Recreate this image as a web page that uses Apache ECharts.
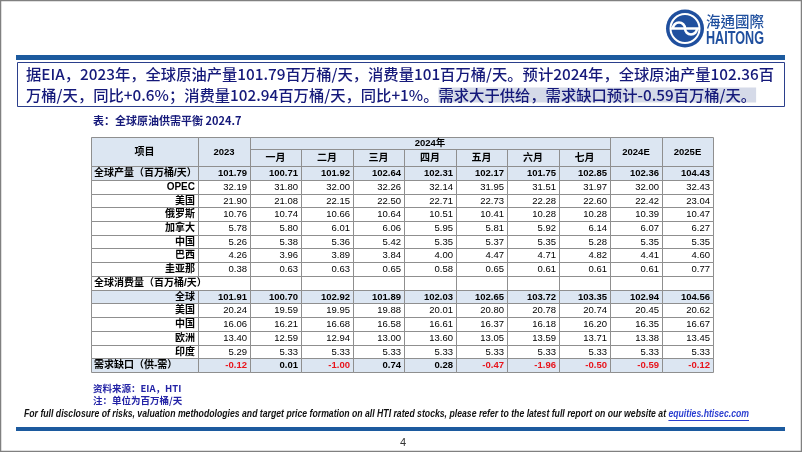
<!DOCTYPE html>
<html>
<head>
<meta charset="utf-8">
<script src="https://cdn.jsdelivr.net/npm/echarts@6/dist/echarts.min.js"></script>
<style>
  html, body { margin: 0; padding: 0; background: #fff; }
  #main { width: 802px; height: 452px; }
</style>
</head>
<body>
<div id="main"></div>
<script>
// ---- data ----
var columns = ['2023', '一月', '二月', '三月', '四月', '五月', '六月', '七月', '2024E', '2025E'];
var yearLabel = '2024年';

var prodTotal  = [101.79, 100.71, 101.92, 102.64, 102.31, 102.17, 101.75, 102.85, 102.36, 104.43];
var prodOPEC   = [32.19, 31.80, 32.00, 32.26, 32.14, 31.95, 31.51, 31.97, 32.00, 32.43];
var prodUS     = [21.90, 21.08, 22.15, 22.50, 22.71, 22.73, 22.28, 22.60, 22.42, 23.04];
var prodRussia = [10.76, 10.74, 10.66, 10.64, 10.51, 10.41, 10.28, 10.28, 10.39, 10.47];
var prodCanada = [5.78, 5.80, 6.01, 6.06, 5.95, 5.81, 5.92, 6.14, 6.07, 6.27];
var prodChina  = [5.26, 5.38, 5.36, 5.42, 5.35, 5.37, 5.35, 5.28, 5.35, 5.35];
var prodBrazil = [4.26, 3.96, 3.89, 3.84, 4.00, 4.47, 4.71, 4.82, 4.41, 4.60];
var prodGuyana = [0.38, 0.63, 0.63, 0.65, 0.58, 0.65, 0.61, 0.61, 0.61, 0.77];
var consTotal  = [101.91, 100.70, 102.92, 101.89, 102.03, 102.65, 103.72, 103.35, 102.94, 104.56];
var consUS     = [20.24, 19.59, 19.95, 19.88, 20.01, 20.80, 20.78, 20.74, 20.45, 20.62];
var consChina  = [16.06, 16.21, 16.68, 16.58, 16.61, 16.37, 16.18, 16.20, 16.35, 16.67];
var consEurope = [13.40, 12.59, 12.94, 13.00, 13.60, 13.05, 13.59, 13.71, 13.38, 13.45];
var consIndia  = [5.29, 5.33, 5.33, 5.33, 5.33, 5.33, 5.33, 5.33, 5.33, 5.33];
var balance    = [-0.12, 0.01, -1.00, 0.74, 0.28, -0.47, -1.96, -0.50, -0.59, -0.12];

// kind: head = left label + shaded bold row, sub = right label, section = label only
var rows = [
  { label: '全球产量（百万桶/天）', values: prodTotal, kind: 'head' },
  { label: 'OPEC', values: prodOPEC, kind: 'sub' },
  { label: '美国', values: prodUS, kind: 'sub' },
  { label: '俄罗斯', values: prodRussia, kind: 'sub' },
  { label: '加拿大', values: prodCanada, kind: 'sub' },
  { label: '中国', values: prodChina, kind: 'sub' },
  { label: '巴西', values: prodBrazil, kind: 'sub' },
  { label: '圭亚那', values: prodGuyana, kind: 'sub' },
  { label: '全球消费量（百万桶/天）', values: null, kind: 'section' },
  { label: '全球', values: consTotal, kind: 'total' },
  { label: '美国', values: consUS, kind: 'sub' },
  { label: '中国', values: consChina, kind: 'sub' },
  { label: '欧洲', values: consEurope, kind: 'sub' },
  { label: '印度', values: consIndia, kind: 'sub' },
  { label: '需求缺口（供-需）', values: balance, kind: 'gap' }
];

var introLine1 = '据EIA，2023年，全球原油产量101.79百万桶/天，消费量101百万桶/天。预计2024年，全球原油产量102.36百';
var introLine2 = '万桶/天，同比+0.6%；消费量102.94百万桶/天，同比+1%。';
var introMark  = '需求大于供给，需求缺口预计-0.59百万桶/天。';
var tableTitle = '表：全球原油供需平衡 2024.7';
var sourceNote = '资料来源：EIA，HTI';
var unitNote   = '注：单位为百万桶/天';
var disclaimer = 'For full disclosure of risks, valuation methodologies and target price formation on all HTI rated stocks, please refer to the latest full report on our website at ';
var linkText   = 'equities.htisec.com';

// ---- layout helpers ----
var NAVY = '#15197a';
var BAND = '#1c5a9e';
var SHADE = '#dce6f2';
var GRID_LINE = '#8f8f8f';
var LABEL_SPAN = 2.08;   // width of item column, in column units
var HEAD_SPAN = 2.12;    // header height, in row units
var HEAD_SPLIT = -1.25;
var NUM_FONT = '"Liberation Sans", "Noto Sans CJK SC"';

var measureCtx = document.createElement('canvas').getContext('2d');
function textWidth(str, font) {
  measureCtx.font = font;
  return measureCtx.measureText(str).width;
}

// ---- table cells ----
var cells = [];
function addCell(x0, y0, x1, y1, text, opts) {
  opts = opts || {};
  cells.push({
    box: [x0, y0, x1, y1],
    text: text,
    align: opts.align || 'center',
    bg: opts.bg || '#fff',
    font: opts.font || ('9px ' + NUM_FONT),
    color: opts.color || '#000'
  });
}

var headFont = 'bold 10px ' + NUM_FONT;
addCell(-LABEL_SPAN, -HEAD_SPAN, 0, 0, '项目', { bg: SHADE, font: headFont });
addCell(0, -HEAD_SPAN, 1, 0, columns[0], { bg: SHADE, font: 'bold 9.5px ' + NUM_FONT });
addCell(1, -HEAD_SPAN, 8, HEAD_SPLIT, yearLabel, { bg: SHADE, font: 'bold 9.5px ' + NUM_FONT });
for (var m = 1; m < 8; m++) {
  addCell(m, HEAD_SPLIT, m + 1, 0, columns[m], { bg: SHADE, font: headFont });
}
addCell(8, -HEAD_SPAN, 9, 0, columns[8], { bg: SHADE, font: 'bold 9.5px ' + NUM_FONT });
addCell(9, -HEAD_SPAN, 10, 0, columns[9], { bg: SHADE, font: 'bold 9.5px ' + NUM_FONT });

rows.forEach(function (row, r) {
  var shaded = row.kind === 'head' || row.kind === 'total' || row.kind === 'gap';
  var bg = shaded ? SHADE : '#fff';
  var labelAlign = (row.kind === 'sub' || row.kind === 'total') ? 'right' : 'left';
  var labelEnd = row.kind === 'section' ? 1 : 0;
  addCell(-LABEL_SPAN, r, labelEnd, r + 1, row.label,
    { align: labelAlign, bg: bg, font: 'bold 10px ' + NUM_FONT });
  for (var c = labelEnd; c < columns.length; c++) {
    var v = row.values ? row.values[c] : null;
    var txt = v === null ? '' : v.toFixed(2);
    var color = (row.kind === 'gap' && v < 0) ? '#e8141c' : '#000';
    var font = shaded ? 'bold 9.5px ' + NUM_FONT : '9.5px ' + NUM_FONT;
    addCell(c, r, c + 1, r + 1, txt, { align: 'right', bg: bg, font: font, color: color });
  }
});

function renderCell(params, api) {
  var cell = cells[params.dataIndex];
  var p0 = api.coord([api.value(0), api.value(1)]);
  var p1 = api.coord([api.value(2), api.value(3)]);
  var x0 = Math.round(p0[0]), y0 = Math.round(p0[1]);
  var x1 = Math.round(p1[0]), y1 = Math.round(p1[1]);
  var tx = cell.align === 'left' ? x0 + 3 : cell.align === 'right' ? x1 - 3 : (x0 + x1) / 2;
  return {
    type: 'group',
    children: [
      { type: 'rect', z2: 0, shape: { x: x0, y: y0, width: x1 - x0, height: y1 - y0 },
        style: { fill: cell.bg } },
      { type: 'rect', z2: 1, shape: { x: x0 + 0.5, y: y0 + 0.5, width: x1 - x0, height: y1 - y0 },
        style: { fill: 'none', stroke: GRID_LINE, lineWidth: 1 } },
      { type: 'text', z2: 2,
        style: { text: cell.text, x: tx, y: (y0 + y1) / 2 + 0.5, align: cell.align,
          verticalAlign: 'middle', font: cell.font, fill: cell.color } }
    ]
  };
}

// ---- page decoration ----
var introFont = '500 15px "Noto Sans CJK SC"';
var introScale = 748 / textWidth(introLine1, introFont);
var discFont = 'italic bold 11px "Liberation Sans"';
var discW = textWidth(disclaimer, discFont);
var linkW = textWidth(linkText, discFont);
var discScale = 725 / (discW + linkW);
var brandFont = 'bold 18px "Liberation Sans"';
var brandScale = 58 / textWidth('HAITONG', brandFont);

var richBase = { fontSize: 15, fontWeight: 500, fontFamily: 'Noto Sans CJK SC', fill: NAVY, lineHeight: 21 };

var graphics = [
  { type: 'rect', shape: { x: 0.5, y: 0.5, width: 801, height: 451 },
    style: { fill: 'none', stroke: '#808080', lineWidth: 1.5 }, z: 100 },
  // logo
  { type: 'circle', shape: { cx: 685, cy: 28.5, r: 19 }, style: { fill: '#1f4f9e' } },
  { type: 'circle', shape: { cx: 685, cy: 28.5, r: 14.5 }, style: { fill: 'none', stroke: '#fff', lineWidth: 2 } },
  { type: 'arc', shape: { cx: 679, cy: 28.5, r: 6, startAngle: Math.PI, endAngle: Math.PI * 2 },
    style: { fill: 'none', stroke: '#fff', lineWidth: 2.5 } },
  { type: 'arc', shape: { cx: 691, cy: 28.5, r: 6, startAngle: 0, endAngle: Math.PI },
    style: { fill: 'none', stroke: '#fff', lineWidth: 2.5 } },
  { type: 'line', shape: { x1: 671, y1: 28.5, x2: 699, y2: 28.5 }, style: { stroke: '#fff', lineWidth: 2.5 } },
  { type: 'text', x: 706, y: 21, style: { text: '海通國際', x: 0, y: 0, verticalAlign: 'middle',
    font: '500 14.5px "Noto Sans CJK TC"', fill: '#1f4f9e' } },
  { type: 'text', x: 706, y: 39.5, scaleX: brandScale, style: { text: 'HAITONG', x: 0, y: 0,
    verticalAlign: 'middle', font: brandFont, fill: '#1f4f9e' } },
  // bands
  { type: 'rect', shape: { x: 16, y: 55, width: 769, height: 5 }, style: { fill: BAND } },
  { type: 'rect', shape: { x: 16, y: 427, width: 769, height: 4 }, style: { fill: BAND } },
  // intro box
  { type: 'rect', shape: { x: 17.5, y: 62.5, width: 767, height: 44 },
    style: { fill: 'none', stroke: '#2b3f8c', lineWidth: 1 } },
  { type: 'text', x: 26, y: 74, scaleX: introScale,
    style: { text: introLine1, x: 0, y: 0, verticalAlign: 'middle', font: introFont, fill: NAVY } },
  { type: 'text', x: 26, y: 95, scaleX: introScale,
    style: { text: '{n|' + introLine2 + '}{h|' + introMark + '}', x: 0, y: 0, verticalAlign: 'middle',
      font: introFont, fill: NAVY,
      rich: { n: richBase, h: Object.assign({}, richBase, { backgroundColor: '#d5dae8' }) } } },
  // table title and notes
  { type: 'text', x: 93, y: 121, style: { text: tableTitle, x: 0, y: 0, verticalAlign: 'middle',
    font: 'bold 11px "Noto Sans CJK SC"', fill: NAVY } },
  { type: 'text', x: 93, y: 388, style: { text: sourceNote, x: 0, y: 0, verticalAlign: 'middle',
    font: 'bold 9.5px "Noto Sans CJK SC"', fill: '#2323a6' } },
  { type: 'text', x: 93, y: 400.5, style: { text: unitNote, x: 0, y: 0, verticalAlign: 'middle',
    font: 'bold 9.5px "Noto Sans CJK SC"', fill: '#2323a6' } },
  // comment marker
  { type: 'polygon', shape: { points: [[199, 137], [204, 137], [199, 142]] }, style: { fill: '#2f8a3a' } },
  // disclaimer
  { type: 'text', x: 24, y: 414, scaleX: discScale, style: { text: disclaimer, x: 0, y: 0,
    verticalAlign: 'middle', font: discFont, fill: '#111' } },
  { type: 'text', x: 24 + discW * discScale, y: 414, scaleX: discScale, style: { text: linkText, x: 0, y: 0,
    verticalAlign: 'middle', font: discFont, fill: '#2b3fd0' } },
  { type: 'line', shape: { x1: 24 + discW * discScale, y1: 420.5, x2: 24 + (discW + linkW) * discScale, y2: 420.5 },
    style: { stroke: '#2b3fd0', lineWidth: 1 } },
  { type: 'text', x: 403, y: 443, style: { text: '4', x: 0, y: 0, align: 'center', verticalAlign: 'middle',
    font: '11px "Liberation Sans"', fill: '#333' } }
];

var chart = echarts.init(document.getElementById('main'));
chart.setOption({
  animation: false,
  grid: { left: 91, right: 89, top: 137, bottom: 80 },
  xAxis: { type: 'value', min: -LABEL_SPAN, max: columns.length, show: false },
  yAxis: { type: 'value', inverse: true, min: -HEAD_SPAN, max: rows.length, show: false },
  series: [{
    type: 'custom',
    renderItem: renderCell,
    encode: { x: [0, 2], y: [1, 3] },
    clip: false,
    silent: true,
    data: cells.map(function (c) { return c.box; })
  }],
  graphic: graphics
});
</script>
</body>
</html>
